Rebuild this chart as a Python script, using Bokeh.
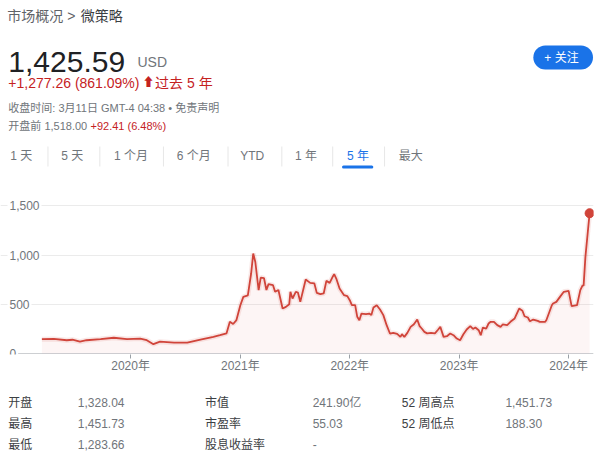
import pandas as pd
from bokeh.plotting import figure
from bokeh.layouts import column
from bokeh.models import Range1d, FixedTicker, Label, BoxAnnotation, DatetimeTickFormatter, ColumnDataSource
from bokeh.embed import file_html
from bokeh.resources import INLINE

# ---------------- data ----------------
dates = [
    "2019-03-11", "2019-04-20", "2019-06-02", "2019-06-21", "2019-07-16", "2019-08-07", "2019-09-23",
    "2019-11-06", "2019-12-20", "2020-02-02", "2020-02-24", "2020-03-17", "2020-04-08", "2020-05-25",
    "2020-07-08", "2020-08-21", "2020-10-03", "2020-10-25", "2020-11-16", "2020-11-27", "2020-12-08",
    "2020-12-19", "2021-01-01", "2021-01-11", "2021-01-26", "2021-02-06", "2021-02-13", "2021-02-20",
    "2021-03-03", "2021-03-10", "2021-03-21", "2021-03-29", "2021-04-05", "2021-04-20", "2021-04-27",
    "2021-05-08", "2021-05-22", "2021-06-02", "2021-06-13", "2021-06-17", "2021-06-24", "2021-07-05",
    "2021-07-12", "2021-07-20", "2021-08-07", "2021-08-22", "2021-09-05", "2021-09-13", "2021-09-25",
    "2021-10-06", "2021-10-15", "2021-10-26", "2021-11-06", "2021-11-10", "2021-11-17", "2021-11-28",
    "2021-12-13", "2021-12-24", "2022-01-01", "2022-01-08", "2022-01-19", "2022-01-26", "2022-02-02",
    "2022-02-09", "2022-02-24", "2022-03-07", "2022-03-14", "2022-03-21", "2022-04-01", "2022-04-12",
    "2022-04-23", "2022-05-04", "2022-05-15", "2022-05-26", "2022-06-08", "2022-06-19", "2022-06-24",
    "2022-07-02", "2022-07-12", "2022-07-23", "2022-08-03", "2022-08-14", "2022-08-22", "2022-08-29",
    "2022-09-07", "2022-09-16", "2022-09-29", "2022-10-12", "2022-10-23", "2022-10-30", "2022-11-10",
    "2022-11-21", "2022-12-02", "2022-12-13", "2022-12-24", "2023-01-04", "2023-01-15", "2023-01-26",
    "2023-02-07", "2023-02-16", "2023-02-24", "2023-03-07", "2023-03-14", "2023-03-21", "2023-04-01",
    "2023-04-09", "2023-04-16", "2023-04-27", "2023-05-08", "2023-05-19", "2023-05-26", "2023-06-10",
    "2023-06-21", "2023-07-05", "2023-07-20", "2023-07-31", "2023-08-07", "2023-08-18", "2023-08-25",
    "2023-09-05", "2023-09-20", "2023-09-27", "2023-10-15", "2023-10-19", "2023-11-06", "2023-11-10",
    "2023-11-21", "2023-12-05", "2023-12-16", "2024-01-01", "2024-01-11", "2024-01-29", "2024-02-09",
    "2024-02-17", "2024-02-20", "2024-02-26", "2024-03-11",
]
prices = [
    146, 148, 135, 140, 120, 135, 147,
    160, 147, 152, 135, 95, 120, 110,
    110, 142, 170, 186, 205, 322, 300,
    340, 490, 575, 590, 813, 1016, 930,
    645, 772, 765, 645, 705, 694, 627,
    645, 457, 474, 500, 627, 559, 627,
    620, 525, 752, 718, 712, 616, 603,
    610, 738, 718, 786, 806, 762, 660,
    593, 583, 542, 491, 491, 373, 339,
    406, 400, 406, 390, 467, 491, 447,
    390, 288, 203, 210, 200, 169, 196,
    169, 210, 271, 298, 345, 278, 254,
    220, 205, 210, 205, 244, 271, 169,
    176, 203, 186, 152, 135, 196, 244,
    278, 250, 264, 237, 186, 264, 254,
    305, 322, 322, 288, 271, 295, 288,
    322, 356, 457, 435, 379, 366, 328,
    345, 332, 322, 322, 340, 491, 508,
    525, 583, 627, 637, 481, 491, 644,
    694, 690, 982, 1425.59,
]
y_ticks = [0, 500, 1000, 1500]
y_tick_labels = ["0", "500", "1,000", "1,500"]
x_tick_dates = ["2020-01-01", "2021-01-01", "2022-01-01", "2023-01-01", "2024-01-01"]

breadcrumb = "市场概况 >"
name = "微策略"
price_text = "1,425.59"
currency = "USD"
change_text = "+1,277.26 (861.09%)"
period_text = "过去 5 年"
close_info = "收盘时间: 3月11日 GMT-4 04:38 • 免责声明"
premarket_label = "开盘前 1,518.00"
premarket_change = "+92.41 (6.48%)"
follow_text = "+  关注"
tabs = ["1 天", "5 天", "1 个月", "6 个月", "YTD", "1 年", "5 年", "最大"]
active_tab = "5 年"
stat_labels = [["开盘", "最高", "最低"], ["市值", "市盈率", "股息收益率"], ["52 周高点", "52 周低点", ""]]
stat_values = [["1,328.04", "1,451.73", "1,283.66"], ["241.90亿", "55.03", "-"], ["1,451.73", "188.30", ""]]

# ---------------- style ----------------
FONT = "Liberation Sans, Noto Sans CJK SC"
RED = "#d0443a"
TXT_RED = "#c5221f"
GRAY = "#70757a"
DARK = "#202124"
MID = "#3c4043"
BLUE = "#1a73e8"
W = 606
H_HEAD, H_CHART, H_STATS = 180, 205, 77


def blank_fig(h):
    f = figure(width=W, height=h, output_backend="svg", toolbar_location=None,
               x_range=Range1d(0, W), y_range=Range1d(h, 0),
               x_axis_location=None, y_axis_location=None,
               min_border=0, min_border_left=0, min_border_right=0, min_border_top=0, min_border_bottom=0)
    f.grid.visible = False
    f.outline_line_color = None
    f.background_fill_color = "white"
    f.border_fill_color = "white"
    return f


def lab(f, x, y, text, size, color, align="left", baseline="middle", style="normal", **kw):
    f.add_layout(Label(x=x, y=y, text=text, text_font=FONT, text_font_size=size, text_color=color,
                       text_align=align, text_baseline=baseline, text_font_style=style, **kw))


# ---------------- header ----------------
head = blank_fig(H_HEAD)
lab(head, 7, 15, breadcrumb, "14px", "#5f6368")
lab(head, 82, 15, name, "14px", MID)
lab(head, 8, 61, price_text, "30px", DARK, baseline="alphabetic")
lab(head, 140, 61, currency, "14px", GRAY, baseline="alphabetic")
lab(head, 8, 82, change_text, "14px", TXT_RED)
lab(head, 145, 82, "⬆", "12px", TXT_RED)
lab(head, 158, 82, period_text, "14px", TXT_RED)
lab(head, 8, 107, close_info, "11px", GRAY)
lab(head, 8, 125, premarket_label, "11px", GRAY)
lab(head, 92, 125, premarket_change, "11px", TXT_RED)
lab(head, 575, 57, follow_text, "12px", "white", align="center",
    background_fill_color=BLUE, padding=dict(x=11, y=5), border_radius=12)

tab_x = [10, 62, 116, 180, 245, 301, 354, 407]
sep_x = [48, 101, 166, 232, 287, 339, 392]
for x, t in zip(tab_x, tabs):
    lab(head, x, 155, t, "12px", BLUE if t == active_tab else GRAY)
for x in sep_x:
    head.add_layout(BoxAnnotation(left=x, right=x + 1, top=146, bottom=166,
                                  fill_color="#e6e6e6", fill_alpha=1, line_color=None))
head.add_layout(BoxAnnotation(left=349, right=381, top=165, bottom=168,
                              fill_color=BLUE, fill_alpha=1, line_color=None, border_radius=2))

# ---------------- chart ----------------
src = ColumnDataSource(dict(date=pd.to_datetime(dates), price=prices))
chart = figure(width=W, height=H_CHART, output_backend="svg", toolbar_location=None,
               x_range=Range1d(pd.Timestamp("2018-10-24"), pd.Timestamp("2024-03-24")),
               y_range=Range1d(-10, 1758), y_axis_location=None,
               min_border_left=0, min_border_right=13, min_border_top=0, min_border_bottom=31)
chart.outline_line_color = None
chart.background_fill_color = "white"
chart.border_fill_color = "white"
chart.xgrid.grid_line_color = None
chart.ygrid.ticker = FixedTicker(ticks=y_ticks[1:])
chart.ygrid.grid_line_color = "#ebebeb"

xa = chart.xaxis[0]
xa.ticker = FixedTicker(ticks=[pd.Timestamp(d).value / 1e6 for d in x_tick_dates])
xa.formatter = DatetimeTickFormatter(years="%Y年", months="%Y年", days="%Y年", hours="%Y年")
xa.axis_line_color = None
xa.major_tick_line_color = "#9aa0a6"
xa.major_tick_out = 4
xa.major_tick_in = 0
xa.minor_tick_line_color = None
xa.major_label_text_color = GRAY
xa.major_label_text_font = FONT
xa.major_label_text_font_size = "12px"
xa.major_label_standoff = 0

# baseline at 0, starting just right of its label
chart.add_layout(BoxAnnotation(left=12, left_units="screen", bottom=y_ticks[0], top=y_ticks[0],
                               fill_alpha=0, line_color="#9aa0a6", line_width=1))

chart.varea(x="date", y1=0, y2="price", source=src, fill_color=RED, fill_alpha=0.05)
chart.line(x="date", y="price", source=src, line_color=RED, line_width=5, line_alpha=0.12)
chart.line(x="date", y="price", source=src, line_color=RED, line_width=1.8)
chart.scatter(x=[pd.Timestamp(dates[-1])], y=[prices[-1]], size=9, color=RED)

for v, t in zip(y_ticks, y_tick_labels):
    chart.add_layout(Label(x=7, x_units="screen", y=v, y_units="data", text=t,
                           text_font=FONT, text_font_size="12px", text_color=GRAY,
                           text_baseline="middle", text_align="left",
                           background_fill_color="white", padding=2))

# ---------------- stats ----------------
stats = blank_fig(H_STATS)
col_label_x = [8, 209, 410]
col_value_x = [79, 319, 516]
row_y = [17, 38, 59]
for c in range(3):
    for r in range(3):
        if stat_labels[c][r]:
            lab(stats, col_label_x[c], row_y[r], stat_labels[c][r], "12px", MID)
        if stat_values[c][r]:
            lab(stats, col_value_x[c], row_y[r], stat_values[c][r], "12px", GRAY)

layout = column(head, chart, stats, spacing=0)
open("out.html", "w").write(file_html(layout, INLINE))
